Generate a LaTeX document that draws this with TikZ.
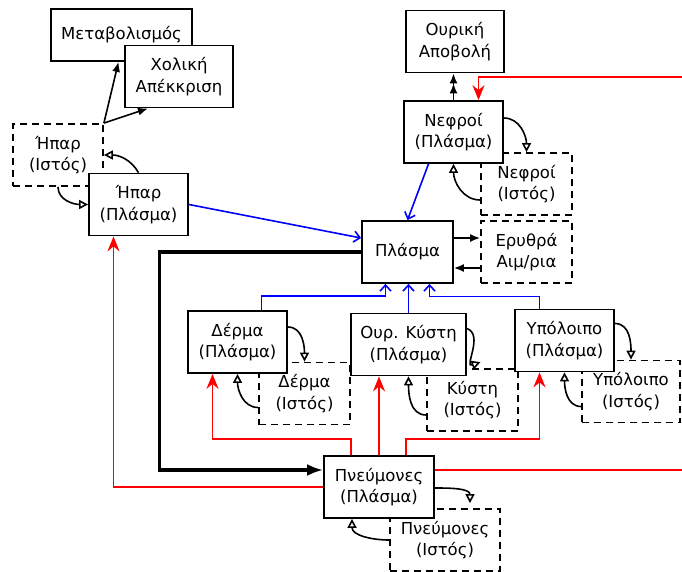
\documentclass[tikz,border=0pt]{standalone}
\usepackage{fontspec}
\setmainfont{DejaVu Sans}
\usetikzlibrary{arrows.meta}

\begin{document}
\begin{tikzpicture}
[x=1pt,y=-1pt,>={Latex[length=10pt,width=8pt]},line width=1.6pt,font=\fontsize{16.5}{21.5}\selectfont]

  \tikzstyle{organ}=[draw=black,fill=white,line width=1.8pt,align=center,inner sep=0pt,minimum height=62pt]
  \tikzstyle{tissue}=[draw=black,dash pattern=on 7pt off 5pt,line width=1.8pt,align=center,inner sep=0pt,minimum height=62pt]
  \tikzstyle{exch}=[-{Triangle[open,length=9pt,width=9pt]}]
  \tikzstyle{flow}=[blue,-{Straight Barb[length=6pt,width=11pt]}]
  \tikzstyle{feed}=[red,-{Stealth[length=15pt,width=12pt,inset=5pt]}]

  \useasboundingbox (0,0) rectangle (682,572);

  % tissue compartments first, plasma boxes drawn over them
  \node[tissue,minimum width=90pt]  (HparI) at (58,155)      {Ήπαρ\\(Ιστός)};
  \node[tissue,minimum width=91pt]  (NefI)  at (526.5,184)   {Νεφροί\\(Ιστός)};
  \node[tissue,minimum width=91pt]  (Eryth) at (526.5,252)   {Ερυθρά\\Αιμ/ρια};
  \node[tissue,minimum width=91pt]  (DermI) at (304.5,393.5) {Δέρμα\\(Ιστός)};
  \node[tissue,minimum width=91pt]  (KystI) at (472.5,400)   {Κύστη\\(Ιστός)};
  \node[tissue,minimum width=98pt]  (YpolI) at (631,391.5)   {Υπόλοιπο\\(Ιστός)};
  \node[tissue,minimum width=110pt] (PneuI) at (445,540)     {Πνεύμονες\\(Ιστός)};

  \node[organ,minimum width=141pt,minimum height=52pt] (Metab) at (121.5,35) {Μεταβολισμός};
  \node[organ,minimum width=108pt]  (Xol)    at (179,76.5)   {Χολική\\Απέκκριση};
  \node[organ,minimum width=99pt]   (HparP)  at (138.5,204.5) {Ήπαρ\\(Πλάσμα)};
  \node[organ,minimum width=98pt]   (Ouriki) at (455,41.5)   {Ουρική\\Αποβολή};
  \node[organ,minimum width=99pt]   (NefP)   at (453.5,132)  {Νεφροί\\(Πλάσμα)};
  \node[organ,minimum width=91pt]   (Plasma) at (407.5,252)  {Πλάσμα};
  \node[organ,minimum width=99pt]   (DermP)  at (237.5,342)  {Δέρμα\\(Πλάσμα)};
  \node[organ,minimum width=115pt]  (KystP)  at (408.5,344.5) {Ουρ. Κύστη\\(Πλάσμα)};
  \node[organ,minimum width=99pt]   (YpolP)  at (564.5,340.5) {Υπόλοιπο\\(Πλάσμα)};
  \node[organ,minimum width=110pt]  (PneuP)  at (379,487)    {Πνεύμονες\\(Πλάσμα)};

  \coordinate (kidin)   at (682,77);
  \coordinate (lungout) at (682,470);

  % liver
  \draw[->] (HparI.north east) -- ([xshift=-3pt]Metab.south);
  \draw[->] (HparI.north east) -- ([xshift=-31pt]Xol.south);
  \draw[exch] (HparP.north) to[out=120,in=0] (HparI.east);
  \draw[exch] (HparI.south) to[out=-90,in=180] (HparP.west);
  \draw[flow] (HparP.east) -- ([yshift=14pt]Plasma.west);

  % kidneys
  \draw[-{Latex[length=10pt,width=8pt]Latex[length=10pt,width=8pt]}] (NefP.north) -- (NefP.north |- Ouriki.south);
  \draw[feed] (kidin) -| ([xshift=25pt]NefP.north);
  \draw[flow] ([xshift=-25pt]NefP.south) -- (Plasma.north);
  \draw[exch] ([yshift=14pt]NefP.east) to[out=0,in=90] (NefI.north);
  \draw[exch] ([yshift=-16pt]NefI.west) to[out=180,in=-90] (NefP.south);

  % red cells
  \draw[->] ([yshift=14pt]Plasma.east) -- ([yshift=14pt]Eryth.west);
  \draw[->] ([yshift=-16pt]Eryth.west) -- ([yshift=-16pt]Plasma.east);

  % plasma to lungs
  \draw[-{Latex[length=16pt,width=12pt]},line width=3.2pt] (Plasma.west) -- ++(-202,0) |- ([yshift=17pt]PneuP.west);

  % back to plasma
  \draw[flow] ([xshift=24pt]DermP.north) -- ++(0,-14) -| ([xshift=-22pt]Plasma.south);
  \draw[flow] (KystP.north) -- (KystP.north |- Plasma.south);
  \draw[flow] ([xshift=-25pt]YpolP.north) -- ++(0,-12) -| ([xshift=22pt]Plasma.south);

  % from lungs
  \draw[feed] ([xshift=-28pt]PneuP.north) -- ++(0,-16) -| ([xshift=-25pt]DermP.south);
  \draw[feed] (PneuP.north) -- (PneuP.north |- KystP.south);
  \draw[feed] ([xshift=27pt]PneuP.north) -- ++(0,-16) -| ([xshift=-25pt]YpolP.south);
  \draw[feed] (PneuP.west) -| ([xshift=-25pt]HparP.south);
  \draw[red] ([yshift=17pt]PneuP.east) -- (lungout);

  % plasma <-> tissue
  \draw[exch] ([yshift=15pt]DermP.east) to[out=0,in=90] (DermI.north);
  \draw[exch] ([yshift=-14pt]DermI.west) to[out=180,in=-90] (DermP.south);
  \draw[exch] ([yshift=16pt]KystP.east) to[out=-20,in=200,looseness=1.3] ([xshift=8pt,yshift=6pt]KystI.north);
  \draw[exch] ([yshift=-15pt]KystI.west) to[out=180,in=-90] (KystP.south);
  \draw[exch] ([yshift=17pt]YpolP.east) to[out=0,in=90] (YpolI.north);
  \draw[exch] ([yshift=-15pt]YpolI.west) to[out=180,in=-90] (YpolP.south);
  \draw[exch] ([yshift=-1pt]PneuP.east) to[out=0,in=90] ([xshift=25pt,yshift=5pt]PneuI.north);
  \draw[exch] ([yshift=0pt]PneuI.west) to[out=180,in=-90] ([xshift=-27pt]PneuP.south);
\end{tikzpicture}
\end{document}
